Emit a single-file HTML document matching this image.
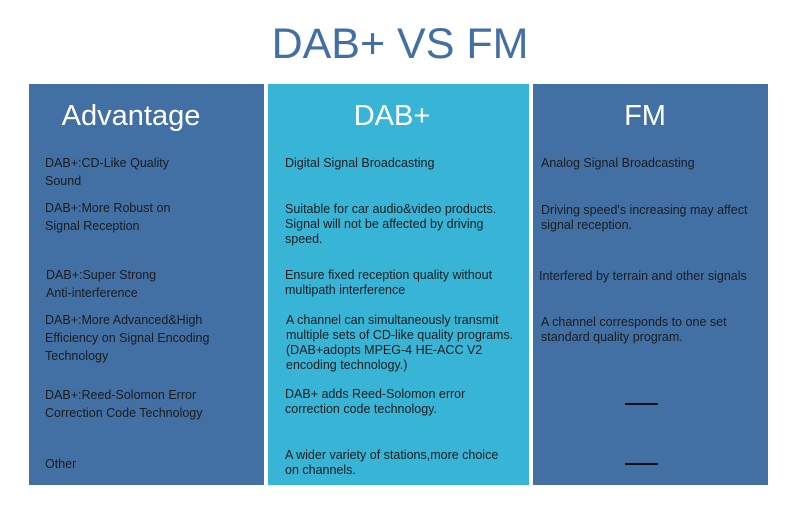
<!DOCTYPE html>
<html><head><meta charset="utf-8"><style>
body{margin:0;width:800px;height:530px;background:#fff;position:relative;overflow:hidden;font-family:"Liberation Sans",sans-serif}
.t{position:absolute;font-size:43px;color:#4270a5;left:0;width:800px;text-align:center;top:19px;line-height:50px}
.c{position:absolute;top:84px;height:401px}
.h{position:absolute;color:#fff;font-size:29px;font-weight:300;text-align:center;line-height:34px;top:99px}
.x{position:absolute;font-size:12.5px;color:#1c1c1c;line-height:15px;white-space:nowrap}
.a{line-height:18px}
.d{position:absolute;left:625px;width:33px;height:2px;background:#111}
</style></head><body>
<div class="t">DAB+ VS FM</div>
<div class="c" style="left:29px;width:235px;background:#4270a5"></div>
<div class="c" style="left:268px;width:261px;background:#38b4d6"></div>
<div class="c" style="left:533px;width:235px;background:#4270a5"></div>
<div class="h" style="left:29px;width:204px">Advantage</div>
<div class="h" style="left:268px;width:248px">DAB+</div>
<div class="h" style="left:533px;width:224px">FM</div>

<div class="x a" style="left:45px;top:154px">DAB+:CD-Like Quality<br>Sound</div>
<div class="x a" style="left:45px;top:199px">DAB+:More Robust on<br>Signal Reception</div>
<div class="x a" style="left:46px;top:266px">DAB+:Super Strong<br>Anti-interference</div>
<div class="x a" style="left:45px;top:311px">DAB+:More Advanced&amp;High<br>Efficiency on Signal Encoding<br>Technology</div>
<div class="x a" style="left:45px;top:386px">DAB+:Reed-Solomon Error<br>Correction Code Technology</div>
<div class="x a" style="left:45px;top:455px">Other</div>

<div class="x" style="left:285px;top:156px">Digital Signal Broadcasting</div>
<div class="x" style="left:285px;top:202px">Suitable for car audio&amp;video products.<br>Signal will not be affected by driving<br>speed.</div>
<div class="x" style="left:285px;top:268px">Ensure fixed reception quality without<br>multipath interference</div>
<div class="x" style="left:286px;top:313px">A channel can simultaneously transmit<br>multiple sets of CD-like quality programs.<br>(DAB+adopts MPEG-4 HE-ACC V2<br>encoding technology.)</div>
<div class="x" style="left:285px;top:387px">DAB+ adds Reed-Solomon error<br>correction code technology.</div>
<div class="x" style="left:285px;top:448px">A wider variety of stations,more choice<br>on channels.</div>

<div class="x" style="left:541px;top:156px">Analog Signal Broadcasting</div>
<div class="x" style="left:541px;top:203px">Driving speed's increasing may affect<br>signal reception.</div>
<div class="x" style="left:539px;top:269px">Interfered by terrain and other signals</div>
<div class="x" style="left:541px;top:315px">A channel corresponds to one set<br>standard quality program.</div>
<div class="d" style="top:403px"></div>
<div class="d" style="top:463px"></div>
</body></html>
